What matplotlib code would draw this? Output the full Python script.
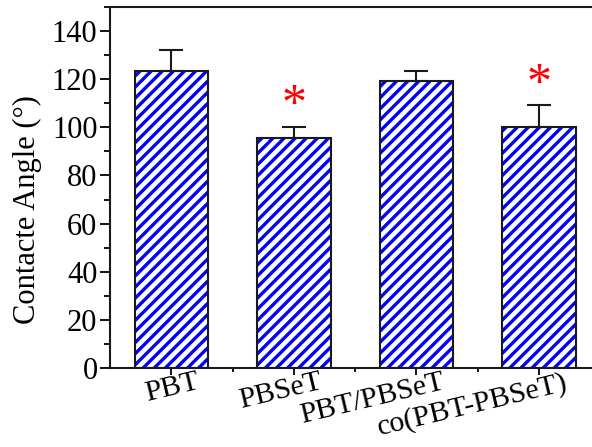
import matplotlib.pyplot as plt
import matplotlib.transforms as mtransforms
import numpy as np
from matplotlib.ticker import MultipleLocator

plt.rcParams['font.family'] = ['Liberation Serif', 'DejaVu Serif']
plt.rcParams['hatch.linewidth'] = 2.4

samples = ['PBT', 'PBSeT', 'PBT/PBSeT', 'co(PBT-PBSeT)']
angle = [123.3, 95.4, 119.4, 100.0]
err = [8.9, 4.9, 3.8, 9.4]
significant = [False, True, False, True]

fig = plt.figure(figsize=(5.92, 4.47), dpi=100)
ax = fig.add_axes([110 / 592, 79 / 447, 490 / 592, 361 / 447])

x = np.arange(1, len(samples) + 1)
# blue stripes, then a black outline on top
ax.bar(x, angle, width=0.6, color='white', edgecolor='#0000f5',
       linewidth=0, hatch='///', zorder=2)
ax.bar(x, angle, width=0.6, fill=False, edgecolor='#1a1a1a',
       linewidth=1.5, zorder=3)
ax.errorbar(x, angle, yerr=[np.zeros(len(err)), err], fmt='none',
            ecolor='#1a1a1a', elinewidth=1.5, capsize=8.3, capthick=1.5,
            zorder=4)

for xi, a, e, s in zip(x, angle, err, significant):
    if s:
        ax.text(xi, a + e + 8.5, '*', color='red', fontsize=36,
                ha='center', va='center')

ax.set_xlim(0.5, 4.5)
ax.set_ylim(0, 150)
ax.yaxis.set_major_locator(MultipleLocator(20))
ax.yaxis.set_minor_locator(MultipleLocator(10))
ax.set_xticks(x)
ax.set_xticks([1.5, 2.5, 3.5], minor=True)
ax.set_xticklabels([])

# rotated category labels, right end shifted past the tick
trans = ax.get_xaxis_transform() + mtransforms.ScaledTranslation(
    0.25, -0.01, fig.dpi_scale_trans)
for xi, name in zip(x, samples):
    ax.text(xi, 0, name, transform=trans, rotation=13.5, ha='right',
            va='top', rotation_mode='anchor', fontsize=21.5)

ax.tick_params(axis='y', which='major', direction='out', length=7,
               width=1.3, labelsize=22, pad=2)
ax.tick_params(axis='y', which='minor', direction='out', length=4, width=1.3)
ax.tick_params(axis='x', which='major', direction='out', length=5, width=1.3)
ax.tick_params(axis='x', which='minor', direction='out', length=3, width=1.3)
ax.tick_params(top=False, right=False, which='both')

for side in ['left', 'bottom', 'top']:
    ax.spines[side].set_linewidth(1.5)
    ax.spines[side].set_color('#1a1a1a')
ax.spines['right'].set_visible(False)

ax.set_ylabel('Contacte Angle (°)', fontsize=22)
ax.yaxis.set_label_coords(-0.139, 0.438)

fig.savefig('out.png', dpi=100)
